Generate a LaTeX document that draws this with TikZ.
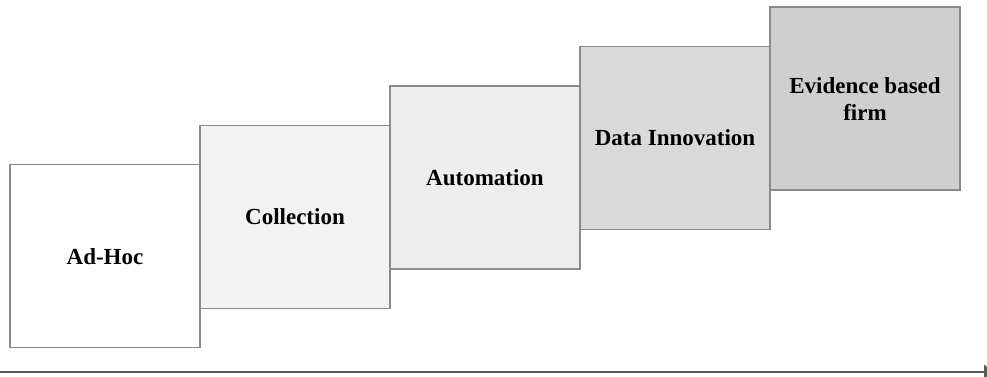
\documentclass[tikz,border=0pt]{standalone}
\usepackage{fontspec}
\setmainfont{Liberation Serif}
\usetikzlibrary{arrows.meta}
\definecolor{edgegray}{HTML}{8A8A8A}
\definecolor{stepA}{HTML}{FFFFFF}
\definecolor{stepB}{HTML}{F2F2F2}
\definecolor{stepC}{HTML}{EDEDED}
\definecolor{stepD}{HTML}{D9D9D9}
\definecolor{stepE}{HTML}{CFCFCF}
\definecolor{axisgray}{HTML}{5A5A5A}
\tikzset{
  stage/.style={draw=edgegray, line width=1.3pt, minimum width=190pt, minimum height=183pt,
    inner sep=0pt, align=center, font=\fontsize{23}{27}\selectfont\bfseries, text=black},
  axis/.style={draw=axisgray, line width=2.6pt, -{Latex[length=12pt,width=16pt]}}
}
\begin{document}
\begin{tikzpicture}[x=1pt,y=1pt]
  \useasboundingbox (0,0) rectangle (987,376);
  % staircase of maturity stages
  \node[stage, fill=stepA] (adhoc)      at (105,119.8) {Ad-Hoc};
  \node[stage, fill=stepB] (collection) at (295,159.2) {Collection};
  \node[stage, fill=stepC] (automation) at (485,198.6) {Automation};
  \node[stage, fill=stepD] (innovation) at (675,238.0) {Data Innovation};
  \node[stage, fill=stepE] (evidence)   at (865,277.4) {Evidence based\\firm};
  % progression axis along the bottom
  \coordinate (axisstart) at (0,4);
  \coordinate (axisend) at (996,4);
  \draw[axis] (axisstart) -- (axisend);
\end{tikzpicture}
\end{document}
